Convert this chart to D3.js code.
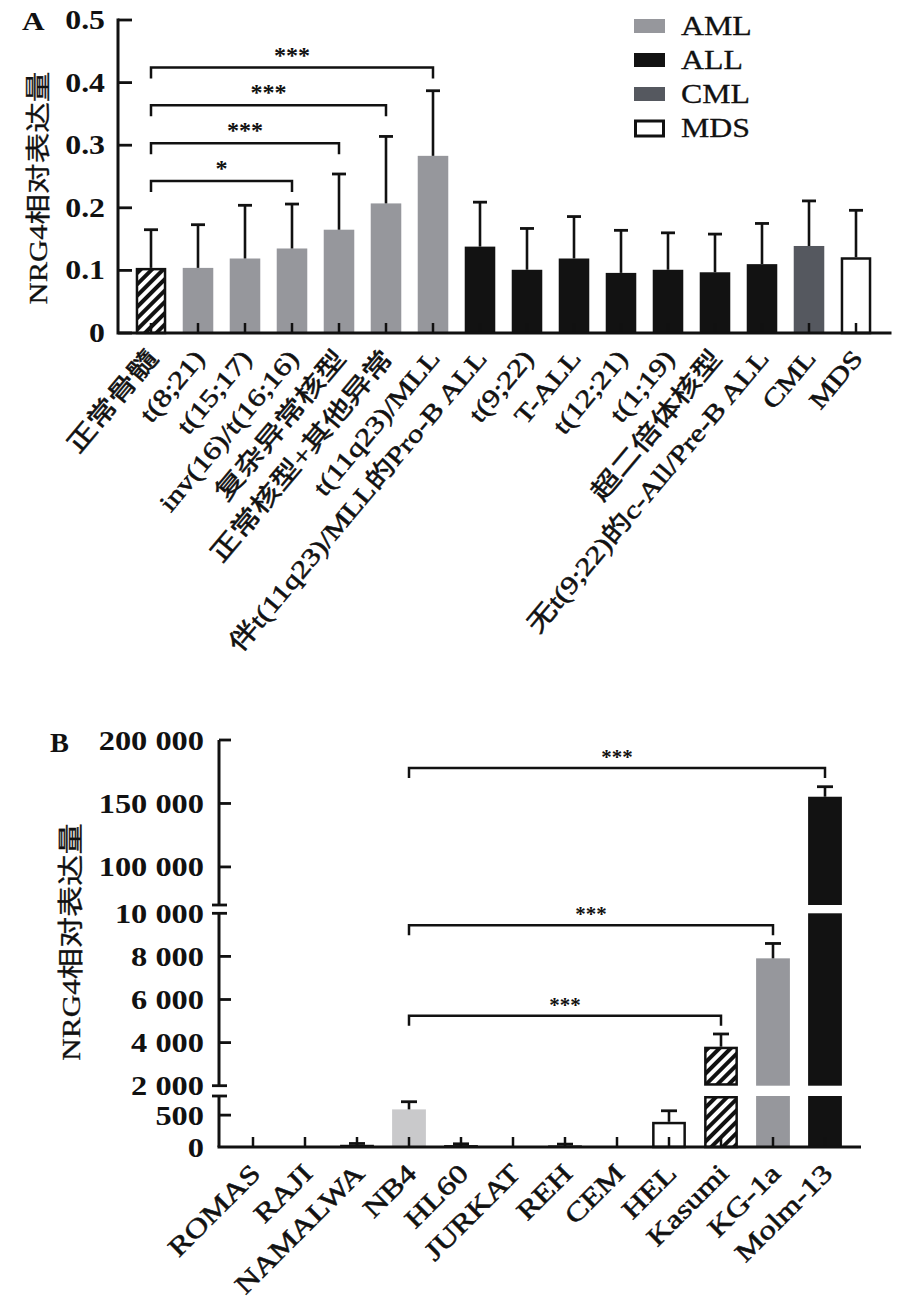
<!DOCTYPE html>
<html><head><meta charset="utf-8">
<script src="https://cdn.jsdelivr.net/npm/d3@7"></script>
<style>
body{margin:0;background:#fff;}
text{font-family:"Liberation Serif","Noto Sans CJK SC",serif;fill:#111;}
</style></head><body>
<svg id="chart" width="910" height="1315" xmlns="http://www.w3.org/2000/svg"></svg>
<script>
// ---------------- DATA : panel A ----------------
const categoriesA = ["正常骨髓","t(8;21)","t(15;17)","inv(16)/t(16;16)","复杂异常核型","正常核型+其他异常","t(11q23)/MLL","伴t(11q23)/MLL的Pro-B ALL","t(9;22)","T-ALL","t(12;21)","t(1;19)","超二倍体核型","无t(9;22)的c-All/Pre-B ALL","CML","MDS"];
const groupsA = ["normal","AML","AML","AML","AML","AML","AML","ALL","ALL","ALL","ALL","ALL","ALL","ALL","CML","MDS"];
const meanA = [0.104,0.104,0.119,0.135,0.165,0.207,0.283,0.138,0.101,0.119,0.096,0.101,0.097,0.110,0.139,0.121];
const sdA   = [0.061,0.069,0.085,0.071,0.089,0.107,0.104,0.071,0.066,0.067,0.068,0.059,0.061,0.065,0.072,0.075];
const ticksA = [0,0.1,0.2,0.3,0.4,0.5];
const tickLabelsA = ["0","0.1","0.2","0.3","0.4","0.5"];
const legendA = ["AML","ALL","CML","MDS"];
// significance: [from index, to index, label, bracket level]
const sigA = [[0,3,"*",0.243],[0,4,"***",0.303],[0,5,"***",0.364],[0,6,"***",0.424]];

// ---------------- DATA : panel B ----------------
const categoriesB = ["ROMAS","RAJI","NAMALWA","NB4","HL60","JURKAT","REH","CEM","HEL","Kasumi","KG-1a","Molm-13"];
const meanB = [3,8,35,590,30,3,25,10,395,3810,7910,155300];
const sdB   = [0,0,20,120,20,0,20,0,173,590,690,7900];
const kindB = ["dark","dark","dark","light","dark","dark","dark","light","open","hatch","mid","dark"];
const segDomainsB = [[0,800],[2000,10000],[70000,200000]];
const ticksB = [[0,500],[2000,4000,6000,8000,10000],[100000,150000,200000]];
const sigB = [[3,11,"***",178000],[3,10,"***",9450],[3,9,"***",5250]];

const yTitle = "NRG4相对表达量";

// ---------------- drawing ----------------
const SX = 1.25;   // horizontal expansion of the typeset text
const svg = d3.select("#chart");
const defs = svg.append("defs");
const pat = defs.append("pattern").attr("id","hatch").attr("patternUnits","userSpaceOnUse")
  .attr("width",8).attr("height",8).attr("patternTransform","rotate(45)");
pat.append("rect").attr("width",8).attr("height",8).attr("fill","#fff");
pat.append("rect").attr("width",4).attr("height",8).attr("fill","#111");

function label(g, s, x, y, o = {}) {
  const t = g.append("text")
    .attr("transform", `translate(${x},${y}) rotate(${o.rot||0}) scale(${o.sx||SX},1)`)
    .attr("text-anchor", o.anchor || "start")
    .style("font-size", (o.size || 25) + "px")
    .style("font-weight", o.weight || "normal")
    .text(s);
  if (o.heavy) t.style("stroke", "#111").style("stroke-width", o.heavy + "px");
  return t;
}
const ink = "#111";

// ======== Panel A ========
const gA = svg.append("g");
const axA = {left:118, right:890, top:20, bottom:333};
const yA = d3.scaleLinear().domain([0,0.5]).range([333,20]);
const xA = d3.scaleBand().domain(categoriesA).range([127.5,879.5]).paddingInner(0.35).paddingOuter(0.175);
const fillA = {normal:"url(#hatch)", AML:"#96979c", ALL:"#121212", CML:"#55585f", MDS:"#ffffff"};
const strokeA = {normal:ink, MDS:ink};
const cxA = c => xA(c) + xA.bandwidth()/2;

categoriesA.forEach((c,i) => {
  const g = groupsA[i];
  const sw = strokeA[g] ? 2.5 : 0;
  gA.append("rect")
    .attr("x", xA(c) + sw/2).attr("width", xA.bandwidth() - sw)
    .attr("y", yA(meanA[i]) + sw/2).attr("height", yA(0) - yA(meanA[i]) - sw/2)
    .attr("fill", fillA[g]).attr("stroke", strokeA[g] || "none").attr("stroke-width", sw);
  const cx = cxA(c);
  gA.append("line").attr("x1",cx).attr("x2",cx).attr("y1",yA(meanA[i])).attr("y2",yA(meanA[i]+sdA[i]))
    .attr("stroke",ink).attr("stroke-width",2.6);
  gA.append("line").attr("x1",cx-7).attr("x2",cx+7).attr("y1",yA(meanA[i]+sdA[i])).attr("y2",yA(meanA[i]+sdA[i]))
    .attr("stroke",ink).attr("stroke-width",2.8);
  gA.append("line").attr("x1",cx).attr("x2",cx).attr("y1",yA(0)).attr("y2",yA(0)-10)
    .attr("stroke",ink).attr("stroke-width",2.5);
  label(gA, c, cx + 8, yA(0) + 26, {rot:-50, anchor:"end", size:25, heavy:0.55});
});

gA.append("path").attr("d", `M${axA.left},${yA(0.5)} V${yA(0)} H${axA.right}`)
  .attr("fill","none").attr("stroke",ink).attr("stroke-width",3).attr("stroke-linecap","square");
ticksA.forEach((t,i) => {
  gA.append("line").attr("x1",axA.left).attr("x2",axA.left+14).attr("y1",yA(t)).attr("y2",yA(t))
    .attr("stroke",ink).attr("stroke-width",2.8);
  label(gA, tickLabelsA[i], 105, yA(t) + 9, {anchor:"end", size:26.5, weight:"bold", sx:1.2});
});
label(gA, "A", 22, 30, {size:25, weight:"bold"});
label(gA, yTitle, 47, 188, {rot:-90, anchor:"middle", size:25.5, sx:1.2, heavy:0.3});

sigA.forEach(([a,b,s,lv]) => {
  const x1 = cxA(categoriesA[a]), x2 = cxA(categoriesA[b]), y = yA(lv);
  gA.append("path").attr("d", `M${x1},${y+11} V${y} H${x2} V${y+11}`)
    .attr("fill","none").attr("stroke",ink).attr("stroke-width",2.5);
  label(gA, s, (x1+x2)/2, y - 5, {anchor:"middle", size:23, weight:"bold", sx:1.05});
});

const legFill = {AML:"#96979c", ALL:"#121212", CML:"#55585f", MDS:"#ffffff"};
legendA.forEach((k,i) => {
  const y0 = 19 + i*34;
  const open = k === "MDS";
  gA.append("rect").attr("x", 634 + (open?1.5:0)).attr("y", y0).attr("width", open?28:31).attr("height", open?15:14)
    .attr("fill", legFill[k]).attr("stroke", open?ink:"none").attr("stroke-width", open?3:0);
  label(gA, k, 681, y0 + 16, {size:27, sx:1.18, heavy:0.3});
});

// ======== Panel B ========
const gB = svg.append("g");
const axB = {left:219, right:861, base:1147};
const segRangesB = [[1147,1096],[1085.7,913.3],[905,740]];
const segScales = segDomainsB.map((d,i) => d3.scaleLinear().domain(d).range(segRangesB[i]));
const yB = v => {
  for (let i = segScales.length - 1; i >= 0; i--) if (v >= segDomainsB[i][0]) return segScales[i](Math.min(v, segDomainsB[i][1]));
  return segScales[0](v);
};
const xB = d3.scaleBand().domain(categoriesB).range([227,851]).paddingInner(0.35).paddingOuter(0.175);
const cxB = c => xB(c) + xB.bandwidth()/2;
const fillB = {dark:"#121212", light:"#c9c9cb", open:"#ffffff", hatch:"url(#hatch)", mid:"#96979c"};
const fmt = v => d3.format(",")(v).replace(/,/g, " ");

categoriesB.forEach((c,i) => {
  const k = kindB[i];
  const outlined = (k === "open" || k === "hatch");
  const sw = outlined ? 2.5 : 0;
  segScales.forEach((s,j) => {
    const [d0,d1] = segDomainsB[j];
    if (meanB[i] <= d0) return;
    const top = Math.min(meanB[i], d1);
    const yt = s(top), yb = s(d0);
    gB.append("rect").attr("x", xB(c) + sw/2).attr("width", xB.bandwidth() - sw)
      .attr("y", yt + sw/2).attr("height", Math.max(0, yb - yt - (j===0 ? sw/2 : sw)))
      .attr("fill", fillB[k]).attr("stroke", outlined ? ink : "none").attr("stroke-width", sw);
  });
  const cx = cxB(c);
  if (sdB[i] > 0) {
    gB.append("line").attr("x1",cx).attr("x2",cx).attr("y1",yB(meanB[i])).attr("y2",yB(meanB[i]+sdB[i]))
      .attr("stroke",ink).attr("stroke-width",2.6);
    gB.append("line").attr("x1",cx-8).attr("x2",cx+8).attr("y1",yB(meanB[i]+sdB[i])).attr("y2",yB(meanB[i]+sdB[i]))
      .attr("stroke",ink).attr("stroke-width",2.8);
  }
  gB.append("line").attr("x1",cx).attr("x2",cx).attr("y1",axB.base).attr("y2",axB.base-10)
    .attr("stroke",ink).attr("stroke-width",2.5);
  label(gB, c, cx + 9, axB.base + 28, {rot:-45, anchor:"end", size:26.5, heavy:0.55});
});

segScales.forEach((s,j) => {
  const [d0,d1] = segDomainsB[j];
  gB.append("line").attr("x1",axB.left).attr("x2",axB.left).attr("y1",s(d0)).attr("y2",s(d1))
    .attr("stroke",ink).attr("stroke-width",3);
  if (j > 0) gB.append("line").attr("x1",axB.left-7).attr("x2",axB.left+8).attr("y1",s(d0)).attr("y2",s(d0)).attr("stroke",ink).attr("stroke-width",2.8);
  if (j < segScales.length-1) gB.append("line").attr("x1",axB.left-7).attr("x2",axB.left+8).attr("y1",s(d1)).attr("y2",s(d1)).attr("stroke",ink).attr("stroke-width",2.8);
  ticksB[j].forEach(t => {
    const atBreak = (j>0 && t===d0) || (j<segScales.length-1 && t===d1);
    if (!atBreak && t !== 0) gB.append("line").attr("x1",axB.left).attr("x2",axB.left+12).attr("y1",s(t)).attr("y2",s(t))
      .attr("stroke",ink).attr("stroke-width",2.8);
    label(gB, fmt(t), 204, s(t) + 9.5, {anchor:"end", size:27, weight:"bold", sx:1.2});
  });
});
gB.append("line").attr("x1",axB.left-1.5).attr("x2",axB.right).attr("y1",axB.base).attr("y2",axB.base)
  .attr("stroke",ink).attr("stroke-width",3);
label(gB, "B", 50, 752, {size:27, weight:"bold", sx:1.05});
label(gB, yTitle, 80, 942, {rot:-90, anchor:"middle", size:26, sx:1.2, heavy:0.3});

sigB.forEach(([a,b,s,lv]) => {
  const x1 = cxB(categoriesB[a]), x2 = cxB(categoriesB[b]), y = yB(lv);
  gB.append("path").attr("d", `M${x1},${y+10} V${y} H${x2} V${y+10}`)
    .attr("fill","none").attr("stroke",ink).attr("stroke-width",2.5);
  label(gB, s, (x1+x2)/2, y - 4, {anchor:"middle", size:20, weight:"bold", sx:1.05});
});
</script>
</body></html>
